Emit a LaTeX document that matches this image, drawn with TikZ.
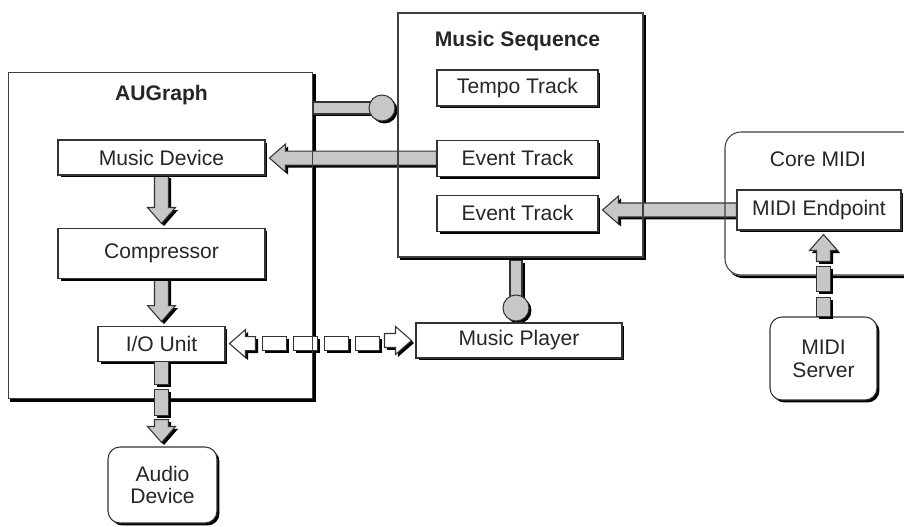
\documentclass[tikz,border=0pt]{standalone}
\usepackage{fontspec}
\setmainfont{Liberation Sans}
\usepackage{tikz}
\usetikzlibrary{
    positioning,
    calc,
    shadows
}

\pgfdeclarelayer{back}
\pgfdeclarelayer{pipes}
\pgfsetlayers{back,pipes,main}

\begin{document}
\begin{tikzpicture}[
  x=0.02cm, y=-0.02cm,
  font=\fontsize{12}{13}\selectfont,
  boxshadow/.style={drop shadow={shadow xshift=0.05cm, shadow yshift=-0.05cm,
    fill=black, opacity=1}},
  container/.style={rectangle, draw=black!75, line width=0.6pt},
  heading/.style={font=\fontsize{12}{13}\selectfont\bfseries, text=black!85},
  unit/.style={rectangle, draw=black!80, line width=0.6pt, fill=white,
    boxshadow, text=black!85, inner sep=1pt, align=center},
  track/.style={unit, minimum width=3.22cm, minimum height=0.72cm},
  device/.style={unit, rounded corners=0.24cm},
  pipe/.style={draw=black!80, line width=0.6pt, fill=black!22, boxshadow},
  hollow/.style={draw=black!80, line width=0.6pt, fill=white, boxshadow},
  fatleft/.style={to path={
    ($(\tikztostart)+(0,-7)$) -- ($(\tikztotarget |- \tikztostart)+(20,-7)$)
    -- ++(0,-7) -- ($(\tikztotarget |- \tikztostart)+(4,0)$)
    -- ($(\tikztotarget |- \tikztostart)+(20,14)$) -- ++(0,-7)
    -- ($(\tikztostart)+(0,7)$) -- cycle}},
  fatright/.style={to path={
    ($(\tikztostart)+(0,-7)$) -- ($(\tikztotarget |- \tikztostart)+(-20,-7)$)
    -- ++(0,-7) -- ($(\tikztotarget |- \tikztostart)+(-4,0)$)
    -- ($(\tikztotarget |- \tikztostart)+(-20,14)$) -- ++(0,-7)
    -- ($(\tikztostart)+(0,7)$) -- cycle}},
  fatdown/.style={to path={
    ($(\tikztostart)+(-7,0)$) -- ($(\tikztotarget -| \tikztostart)+(-7,-20)$)
    -- ++(-7,0) -- ($(\tikztotarget -| \tikztostart)+(0,-4)$)
    -- ($(\tikztotarget -| \tikztostart)+(14,-20)$) -- ++(-7,0)
    -- ($(\tikztostart)+(7,0)$) -- cycle}},
  fatup/.style={to path={
    ($(\tikztostart)+(-7,0)$) -- ($(\tikztotarget -| \tikztostart)+(-7,20)$)
    -- ++(-7,0) -- ($(\tikztotarget -| \tikztostart)+(0,4)$)
    -- ($(\tikztotarget -| \tikztostart)+(14,20)$) -- ++(-7,0)
    -- ($(\tikztostart)+(7,0)$) -- cycle}}
]

\useasboundingbox (0,0) rectangle (904,527);

%% -- AUGraph ------------------------------------------------------------------
\node[container, minimum width=6.1cm, minimum height=6.54cm] (aug) at (160.5,235.5) {};
\node[heading] (augt) at ($(aug.north)+(1,24)$) {AUGraph};

\node[unit, minimum width=4.14cm, minimum height=0.7cm] (md) at (161.5,157.5) {Music Device};
\node[unit, minimum width=4.14cm, minimum height=1.0cm, below=1.04cm of md] (cmp) {Compressor};
\node[unit, minimum width=2.54cm, minimum height=0.7cm, below=0.94cm of cmp] (io) {I/O Unit};

\node[device, minimum width=2.18cm, minimum height=1.52cm] (aud) at (162.5,485) {Audio\\Device};

%% -- Music Sequence -----------------------------------------------------------
\node[container, minimum width=4.9cm, minimum height=4.88cm] (seq) at (520.5,135) {};
\node[heading] (seqt) at ($(seq.north)+(-3,29)$) {Music Sequence};

\node[track] (tempo) at (517.5,88) {Tempo Track};
\node[track, below=0.66cm of tempo] (et1) {Event Track};
\node[track, below=0.36cm of et1] (et2) {Event Track};

\node[unit, minimum width=4.12cm, minimum height=0.7cm] (mpl) at (519,340.5) {Music Player};

%% -- Core MIDI (runs off the right edge) --------------------------------------
\node[container, rounded corners=0.32cm, minimum width=4.3cm, minimum height=2.86cm] (core) at (832.5,203.5) {};
\node[text=black!85] (coret) at ($(core.north)+(-14.5,28)$) {Core MIDI};

\node[unit, minimum width=3.28cm, minimum height=0.8cm] (mep) at (819,210) {MIDI Endpoint};

\node[device, minimum width=2.14cm, minimum height=1.66cm] (srv) at (823.5,358.5) {MIDI\\Server};

%% -- container backs ----------------------------------------------------------
\begin{pgfonlayer}{back}
  \path[fill=white, boxshadow] (aug.north west) rectangle (aug.south east);
  \path[fill=white, boxshadow] (seq.north west) rectangle (seq.south east);
  \path[fill=white, boxshadow, rounded corners=0.32cm]
    (core.north west) rectangle (core.south east);
\end{pgfonlayer}

%% -- pipes under the frames ---------------------------------------------------
\begin{pgfonlayer}{pipes}
  \draw[pipe, fatleft] (et1.west) to (md.east);
  \draw[pipe, fatleft] (mep.west) to (et2.east);
  \draw[pipe, fatdown] (md.south) to (cmp.north);
  \draw[pipe, fatdown] (cmp.south) to (io.north);

  % lollipops
  \coordinate (hook) at (382,108);
  \draw[pipe] ($(aug.east |- hook)+(0,-6)$) rectangle ($(hook)+(0,6)$);
  \draw[pipe] (hook) circle[radius=0.26cm];

  \coordinate (plug) at (516,308);
  \draw[pipe] ($(plug |- seq.south)+(-6,3)$) rectangle ($(plug)+(6,0)$);
  \draw[pipe] (plug) circle[radius=0.26cm];

  % I/O Unit <-> Music Player
  \coordinate (io-tail) at ($(io.east)+(30,0)$);
  \coordinate (mpl-tail) at ($(mpl.west)+(-31,0)$);
  \draw[hollow, fatleft] (io-tail) to (io.east);
  \draw[hollow] ($(io.east)+(37,-7)$) rectangle ++(24,14);
  \draw[hollow] ($(io.east)+(68,-7)$) rectangle ++(24,14);
  \draw[hollow] ($(io.east)+(99,-7)$) rectangle ++(24,14);
  \draw[hollow] ($(io.east)+(130,-7)$) rectangle ++(24,14);
  \draw[hollow, fatright] (mpl-tail) to (mpl.west);
\end{pgfonlayer}

%% -- broken pipes on top ------------------------------------------------------
\draw[pipe] ($(io.south)+(-7,0)$) rectangle ++(14,23);
\draw[pipe] ($(io.south)+(-7,28)$) rectangle ++(14,26);
\coordinate (io-drop) at ($(io.south)+(0,58)$);
\draw[pipe, fatdown] (io-drop) to (aud.north);

\draw[pipe] ($(srv.north)+(-7,0)$) rectangle ++(14,-19);
\draw[pipe] ($(srv.north)+(-7,-25)$) rectangle ++(14,-25);
\coordinate (srv-rise) at ($(srv.north)+(0,-55)$);
\draw[pipe, fatup] (srv-rise) to (mep.south);

\end{tikzpicture}
\end{document}
